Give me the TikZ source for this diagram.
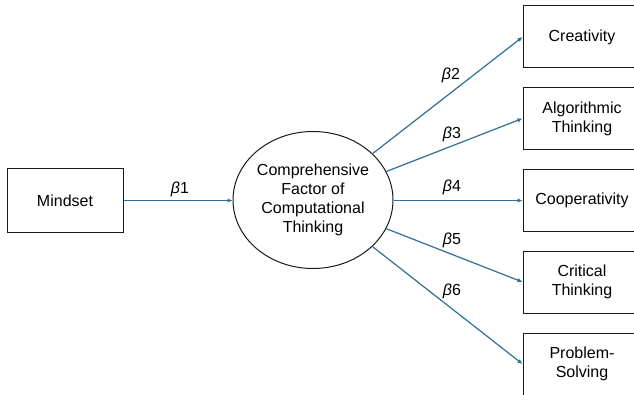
\documentclass[tikz,border=0pt]{standalone}
\usepackage{fontspec}
\setmainfont{Liberation Sans}
\usetikzlibrary{arrows.meta,shapes.geometric}

\tikzset{
  box/.style={draw=black!90, line width=1pt, minimum width=118pt, minimum height=62pt,
    align=center, inner sep=0pt},
  latent/.style={ellipse, draw=black!90, line width=1pt, minimum width=160pt,
    minimum height=137pt, align=center, inner sep=0pt},
  path/.style={-{Latex[length=5pt,width=4.5pt]}, draw=pathblue, line width=1.2pt},
  coef/.style={inner sep=0pt}
}
\definecolor{pathblue}{HTML}{2F6F96}
\newcommand{\bcoef}[1]{{\itshape β}#1}

\begin{document}
\begin{tikzpicture}[x=1pt, y=1pt, font=\fontsize{16}{19}\selectfont]
\useasboundingbox (0,0) rectangle (634,394);
\clip (0,0) rectangle (634,394);

% predictor and the comprehensive factor
\node[box, minimum width=116pt, minimum height=63pt] (mind) at (65,193.5) {Mindset};
\node[latent] (comp) at (313,194) {Comprehensive\\Factor of\\Computational\\Thinking};

% the five sub-factors
\node[box] (crea) at (582,357)   {Creativity};
\node[box] (algo) at (582,275.5) {Algorithmic\\Thinking};
\node[box] (coop) at (582,193.5) {Cooperativity};
\node[box] (crit) at (582,112)   {Critical\\Thinking};
\node[box] (prob) at (582,30)    {Problem-\\Solving};

% paths
\draw[path] (mind.east) -- (comp.west |- mind.east);
\draw[path] (comp) -- (crea.west);
\draw[path] (comp) -- (algo.west);
\draw[path] (comp.east |- coop.west) -- (coop.west);
\draw[path] (comp) -- (crit.west);
\draw[path] (comp) -- (prob.west);

% coefficients
\node[coef] (b1) at (180,205) {\bcoef{1}};
\node[coef] (b2) at (451,319) {\bcoef{2}};
\node[coef] (b3) at (452,260) {\bcoef{3}};
\node[coef] (b4) at (452,207) {\bcoef{4}};
\node[coef] (b5) at (452,154) {\bcoef{5}};
\node[coef] (b6) at (452,103) {\bcoef{6}};
\end{tikzpicture}
\end{document}
